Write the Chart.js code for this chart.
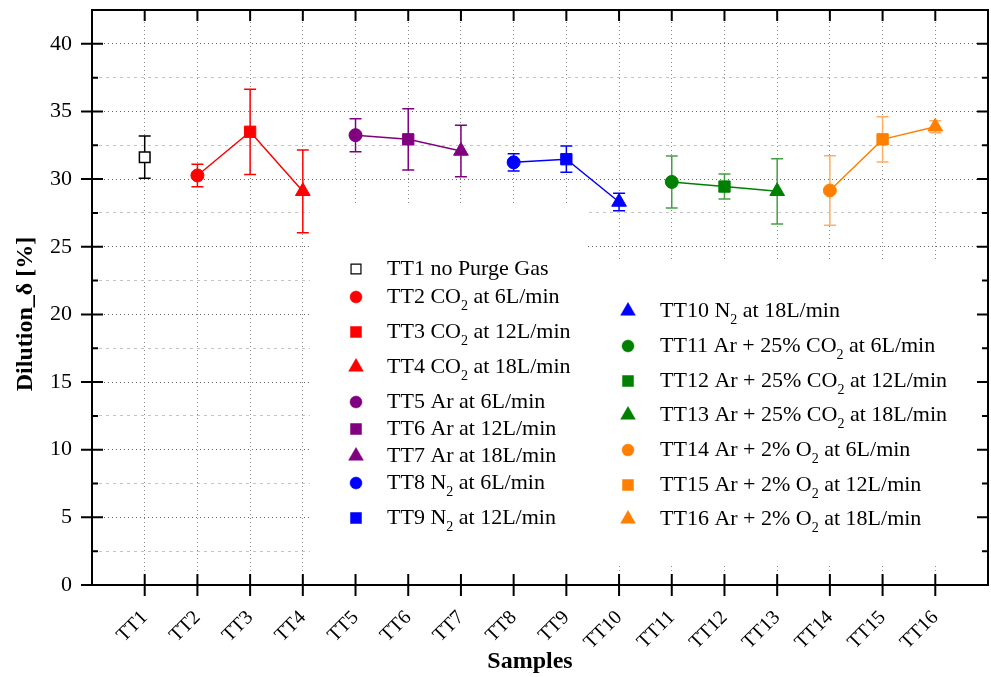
<!DOCTYPE html>
<html>
<head>
<meta charset="utf-8">
<script src="https://cdn.jsdelivr.net/npm/chart.js@4.4.0/dist/chart.umd.min.js"></script>
<style>
  html, body { margin: 0; padding: 0; background: #fff; }
  #wrap { width: 991px; height: 677px; }
</style>
</head>
<body>
<div id="wrap"><canvas id="dilutionChart" width="991" height="677"></canvas></div>
<script>
// Data
const samples = ['TT1', 'TT2', 'TT3', 'TT4', 'TT5', 'TT6', 'TT7', 'TT8',
                 'TT9', 'TT10', 'TT11', 'TT12', 'TT13', 'TT14', 'TT15', 'TT16'];
const dilution = [31.62, 30.27, 33.50, 29.10, 33.25, 32.94, 32.08, 31.24,
                  31.47, 28.31, 29.79, 29.45, 29.10, 29.16, 32.94, 33.87];
const dilutionErr = [1.56, 0.83, 3.15, 3.06, 1.22, 2.27, 1.90, 0.64,
                     0.97, 0.64, 1.92, 0.92, 2.41, 2.57, 1.67, 0.44];
const legendLabels = [
    'TT1 no Purge Gas',
    'TT2 CO{2} at 6L/min',
    'TT3 CO{2} at 12L/min',
    'TT4 CO{2} at 18L/min',
    'TT5 Ar at 6L/min',
    'TT6 Ar at 12L/min',
    'TT7 Ar at 18L/min',
    'TT8 N{2} at 6L/min',
    'TT9 N{2} at 12L/min',
    'TT10 N{2} at 18L/min',
    'TT11 Ar + 25% CO{2} at 6L/min',
    'TT12 Ar + 25% CO{2} at 12L/min',
    'TT13 Ar + 25% CO{2} at 18L/min',
    'TT14 Ar + 2% O{2} at 6L/min',
    'TT15 Ar + 2% O{2} at 12L/min',
    'TT16 Ar + 2% O{2} at 18L/min'
];
// Samples joined by a line (indices into the arrays above)
const groups = [[0], [1, 2, 3], [4, 5, 6], [7, 8, 9], [10, 11, 12], [13, 14, 15]];

// Styles
const groupColors = ['#000000', '#ff0000', '#800080', '#0000ff', '#008000', '#ff8000'];
const errorColors = ['#000000', '#ff0000', '#800080', '#0000ff', '#45a045', '#ffae62'];
const markerStyles = ['rect', 'circle', 'rect', 'triangle', 'circle', 'rect', 'triangle', 'circle',
                      'rect', 'triangle', 'circle', 'rect', 'triangle', 'circle', 'rect', 'triangle'];
const markerRadius = { circle: 6.5, rect: 8, triangle: 8.5 };
const FONT = '"Liberation Serif", "Times New Roman", serif';

function groupOf(i) {
    return groups.findIndex(g => g.includes(i));
}

// Build datasets, one per group
const datasets = groups.map((idx, g) => {
    const hollow = g === 0;
    return {
        label: 'group' + g,
        data: idx.map(i => ({ x: i + 1, y: dilution[i] })),
        showLine: idx.length > 1,
        borderColor: groupColors[g],
        borderWidth: 1.5,
        pointStyle: idx.map(i => markerStyles[i]),
        pointRadius: idx.map(i => hollow ? 7.5 : markerRadius[markerStyles[i]]),
        pointBackgroundColor: hollow ? '#ffffff' : groupColors[g],
        pointBorderColor: groupColors[g],
        pointBorderWidth: hollow ? 1.5 : 1,
        tension: 0
    };
});

// Draw a marker the same way for the legend
function drawMarker(ctx, style, x, y, r, fill, stroke, lw) {
    ctx.save();
    ctx.beginPath();
    if (style === 'circle') {
        ctx.arc(x, y, r, 0, Math.PI * 2);
    } else if (style === 'rect') {
        const s = r * Math.SQRT1_2;
        ctx.rect(x - s, y - s, 2 * s, 2 * s);
    } else {
        let a = 0;
        ctx.moveTo(x + Math.sin(a) * r, y - Math.cos(a) * r);
        a += Math.PI * 2 / 3;
        ctx.lineTo(x + Math.sin(a) * r, y - Math.cos(a) * r);
        a += Math.PI * 2 / 3;
        ctx.lineTo(x + Math.sin(a) * r, y - Math.cos(a) * r);
    }
    ctx.closePath();
    ctx.fillStyle = fill;
    ctx.fill();
    ctx.lineWidth = lw;
    ctx.strokeStyle = stroke;
    ctx.stroke();
    ctx.restore();
}

// Text with {sub} parts as subscripts
function drawRichText(ctx, text, x, y) {
    const parts = text.split(/(\{[^}]*\})/).filter(p => p.length);
    let cx = x;
    parts.forEach(p => {
        if (p.startsWith('{')) {
            const t = p.slice(1, -1);
            ctx.font = '14px ' + FONT;
            ctx.fillText(t, cx, y + 9);
            cx += ctx.measureText(t).width;
        } else {
            ctx.font = '22px ' + FONT;
            ctx.fillText(p, cx, y);
            cx += ctx.measureText(p).width;
        }
    });
}

// Legend layout (two columns)
const legendLeft = { markerX: 356, textX: 387, rows: [269, 297, 332, 367, 402, 429, 456, 483, 518] };
const legendRight = { markerX: 628, textX: 660, rows: [311, 346, 381, 415, 450, 485, 519] };

function noScalePadding(scale) {
    scale.paddingTop = 0;
    scale.paddingBottom = 0;
    scale.paddingLeft = 0;
    scale.paddingRight = 0;
}

const figurePlugin = {
    id: 'figurePlugin',
    beforeDatasetsDraw(chart) {
        const { ctx, scales: { x, y } } = chart;
        // white legend backgrounds hide the grid behind them
        ctx.save();
        ctx.fillStyle = '#ffffff';
        ctx.fillRect(310, 203, 278, 382);
        ctx.fillRect(588, 262, 400, 303);
        ctx.restore();

        // error bars
        ctx.save();
        ctx.lineWidth = 1.5;
        dilution.forEach((v, i) => {
            const px = x.getPixelForValue(i + 1);
            const top = y.getPixelForValue(v + dilutionErr[i]);
            const bot = y.getPixelForValue(v - dilutionErr[i]);
            ctx.strokeStyle = errorColors[groupOf(i)];
            ctx.beginPath();
            ctx.moveTo(px, top); ctx.lineTo(px, bot);
            ctx.moveTo(px - 6, top); ctx.lineTo(px + 6, top);
            ctx.moveTo(px - 6, bot); ctx.lineTo(px + 6, bot);
            ctx.stroke();
        });
        ctx.restore();
    },
    afterDatasetsDraw(chart) {
        const { ctx } = chart;
        ctx.save();
        ctx.fillStyle = '#000';
        ctx.textBaseline = 'middle';
        ctx.textAlign = 'left';
        legendLabels.forEach((label, i) => {
            const col = i < legendLeft.rows.length ? legendLeft : legendRight;
            const row = i < legendLeft.rows.length ? i : i - legendLeft.rows.length;
            const yy = col.rows[row];
            const g = groupOf(i);
            const style = markerStyles[i];
            if (g === 0) {
                drawMarker(ctx, 'rect', col.markerX, yy, 7, '#ffffff', '#000000', 1.2);
            } else {
                const r = style === 'circle' ? 6 : (style === 'rect' ? 7.8 : 8.5);
                drawMarker(ctx, style, col.markerX, yy, r, groupColors[g], groupColors[g], 0.5);
            }
            ctx.fillStyle = '#000';
            drawRichText(ctx, label, col.textX, yy);
        });
        ctx.restore();
    },
    afterDraw(chart) {
        const { ctx, chartArea: a, scales: { x, y } } = chart;
        ctx.save();
        ctx.strokeStyle = '#000';
        ctx.lineWidth = 2;
        ctx.strokeRect(a.left, a.top, a.right - a.left, a.bottom - a.top);

        // tick marks
        ctx.beginPath();
        for (let i = 1; i <= samples.length; i++) {
            const px = x.getPixelForValue(i);
            ctx.moveTo(px, a.bottom - 11); ctx.lineTo(px, a.bottom + 11);
            ctx.moveTo(px, a.top); ctx.lineTo(px, a.top + 11);
        }
        y.ticks.forEach(t => {
            const py = y.getPixelForValue(t.value);
            if (t.value % 5 === 0) {
                ctx.moveTo(a.left - 11, py); ctx.lineTo(a.left + 11, py);
                ctx.moveTo(a.right - 11, py); ctx.lineTo(a.right, py);
            } else {
                ctx.moveTo(a.left, py); ctx.lineTo(a.left + 6, py);
                ctx.moveTo(a.right - 6, py); ctx.lineTo(a.right, py);
            }
        });
        ctx.stroke();

        // axis titles
        ctx.fillStyle = '#000';
        ctx.font = 'bold 24px ' + FONT;
        ctx.textAlign = 'center';
        ctx.textBaseline = 'middle';
        ctx.fillText('Samples', 530, 662);
        ctx.translate(26, 314);
        ctx.rotate(-Math.PI / 2);
        ctx.fillText('Dilution_δ [%]', 0, 0);
        ctx.restore();
    }
};

new Chart(document.getElementById('dilutionChart'), {
    type: 'line',
    data: { datasets },
    plugins: [figurePlugin],
    options: {
        responsive: false,
        animation: false,
        layout: { autoPadding: false, padding: { top: 10, right: 3, left: 0, bottom: 0 } },
        plugins: {
            legend: { display: false },
            tooltip: { enabled: false }
        },
        scales: {
            x: {
                type: 'linear',
                min: 0,
                max: 17,
                afterBuildTicks: scale => {
                    scale.ticks = samples.map((s, i) => ({ value: i + 1 }));
                },
                afterFit: scale => { scale.height = 92; noScalePadding(scale); },
                ticks: {
                    autoSkip: false,
                    maxRotation: 45,
                    minRotation: 45,
                    padding: 10,
                    color: '#000',
                    font: { family: FONT, size: 20 },
                    callback: v => samples[v - 1] || ''
                },
                grid: {
                    color: '#8a8a8a',
                    lineWidth: 1,
                    tickLength: 11,
                    tickColor: 'rgba(0,0,0,0)'
                },
                border: { display: false, dash: [1, 3] }
            },
            y: {
                min: 0,
                max: 42.5,
                afterBuildTicks: scale => {
                    const t = [];
                    for (let v = 0; v <= 40; v += 2.5) t.push({ value: v });
                    scale.ticks = t;
                },
                afterFit: scale => { scale.width = 92; noScalePadding(scale); },
                ticks: {
                    autoSkip: false,
                    padding: 9,
                    color: '#000',
                    font: { family: FONT, size: 22 },
                    callback: v => (v % 5 === 0 ? v : '')
                },
                grid: {
                    color: c => (c.tick && c.tick.value % 5 !== 0 ? '#c4c4c4' : '#666666'),
                    lineWidth: 1,
                    tickLength: 11,
                    tickColor: 'rgba(0,0,0,0)'
                },
                border: {
                    display: false,
                    dash: c => (c.tick && c.tick.value % 5 !== 0 ? [3, 4] : [1, 3])
                }
            }
        }
    }
});
</script>
</body>
</html>
